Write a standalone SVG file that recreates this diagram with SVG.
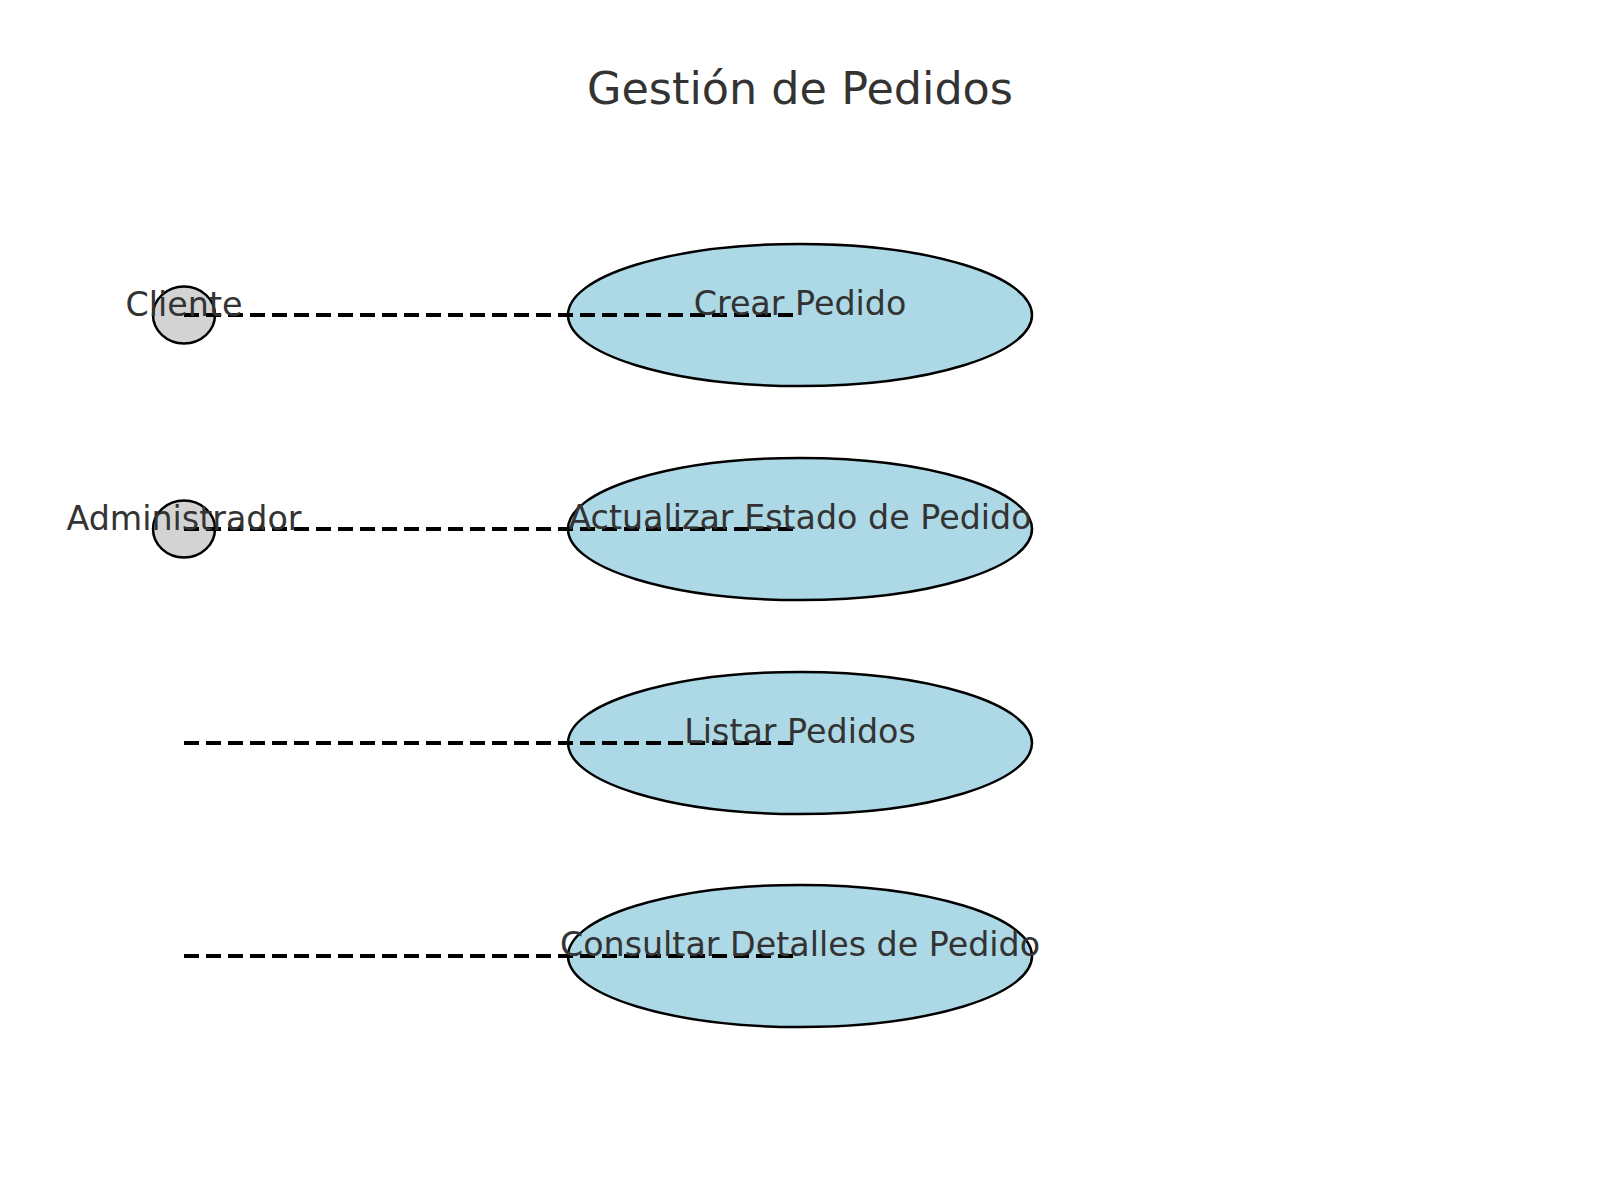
<svg xmlns="http://www.w3.org/2000/svg" width="1600" height="1200" viewBox="0 0 1600 1200">
<style>
.bg{fill:#ffffff}
.title{font-family:"DejaVu Sans",sans-serif;font-size:44.5px;fill:#333333;text-anchor:middle}
.lbl{font-family:"DejaVu Sans",sans-serif;font-size:33.3px;fill:#333333;text-anchor:middle}
.uc{fill:#add8e6;stroke:#000000;stroke-width:2.5}
.actor{fill:#d3d3d3;stroke:#000000;stroke-width:2.5}
.conn{stroke:#000000;stroke-width:4;stroke-dasharray:15 7;fill:none}
</style>
<rect class="bg" x="0" y="0" width="1600" height="1200"/>
<text class="title" x="800" y="104">Gestión de Pedidos</text>
<g id="uc-crear">
<ellipse class="uc" cx="800" cy="315" rx="232" ry="71"/>
</g>
<g id="uc-actualizar">
<ellipse class="uc" cx="800" cy="529" rx="232" ry="71"/>
</g>
<g id="uc-listar">
<ellipse class="uc" cx="800" cy="743" rx="232" ry="71"/>
</g>
<g id="uc-consultar">
<ellipse class="uc" cx="800" cy="956" rx="232" ry="71"/>
</g>
<g id="actor-cliente">
<ellipse class="actor" cx="184" cy="315" rx="31" ry="28.5"/>
</g>
<g id="actor-admin">
<ellipse class="actor" cx="184" cy="529" rx="31" ry="28.5"/>
</g>
<g id="connectors">
<line class="conn" x1="184" y1="315" x2="795" y2="315"/>
<line class="conn" x1="184" y1="529" x2="795" y2="529"/>
<line class="conn" x1="184" y1="743" x2="795" y2="743"/>
<line class="conn" x1="184" y1="956" x2="795" y2="956"/>
</g>
<g id="labels">
<text class="lbl" x="184" y="316">Cliente</text>
<text class="lbl" x="184" y="530">Administrador</text>
<text class="lbl" x="800" y="315">Crear Pedido</text>
<text class="lbl" x="800" y="529">Actualizar Estado de Pedido</text>
<text class="lbl" x="800" y="743">Listar Pedidos</text>
<text class="lbl" x="800" y="956">Consultar Detalles de Pedido</text>
</g>
</svg>
